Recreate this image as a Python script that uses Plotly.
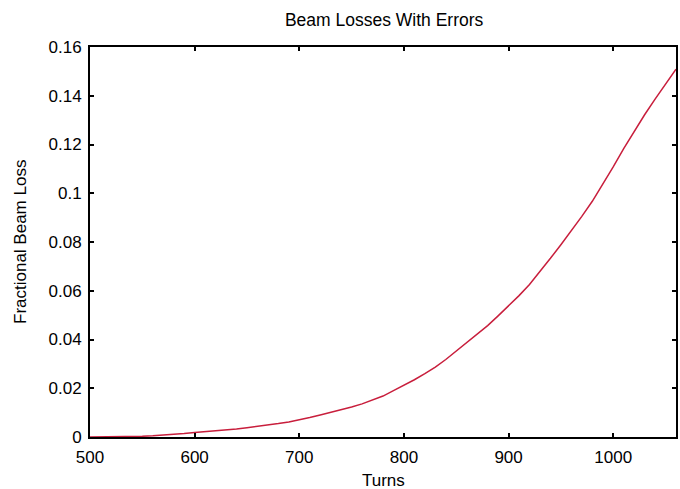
import plotly.graph_objects as go

# Fractional beam loss versus turn number
turns = list(range(500, 1061, 10))
loss = [
    0.0000, 0.0000, 0.0001, 0.0001, 0.0002, 0.0003, 0.0005, 0.0007, 0.0010, 0.0014,
    0.0018, 0.0021, 0.0025, 0.0029, 0.0033, 0.0038, 0.0043, 0.0049, 0.0055, 0.0062,
    0.0070, 0.0080, 0.0090, 0.0100, 0.0112, 0.0123, 0.0136, 0.0151, 0.0168, 0.0190,
    0.0212, 0.0235, 0.0260, 0.0287, 0.0318, 0.0353, 0.0388, 0.0423, 0.0457, 0.0497,
    0.0538, 0.0580, 0.0626, 0.0678, 0.0733, 0.0789, 0.0846, 0.0905, 0.0967, 0.1035,
    0.1108, 0.1183, 0.1255, 0.1322, 0.1386, 0.1447, 0.1509,
]

x_ticks = [500, 600, 700, 800, 900, 1000]
y_ticks = [0, 0.02, 0.04, 0.06, 0.08, 0.1, 0.12, 0.14, 0.16]
y_tick_text = ["0", "0.02", "0.04", "0.06", "0.08", "0.1", "0.12", "0.14", "0.16"]

FONT = "Liberation Sans, Arial, sans-serif"
FS = 17

fig = go.Figure()
fig.add_trace(go.Scatter(
    x=turns, y=loss, mode="lines",
    line=dict(color="#c81e3c", width=1.5),
    showlegend=False, hoverinfo="skip",
))

axis_common = dict(
    showline=True, linecolor="black", linewidth=2, mirror="ticks",
    ticks="inside", ticklen=4, tickwidth=1.5, tickcolor="black",
    showgrid=False, zeroline=False,
    tickfont=dict(family=FONT, size=FS, color="black"),
)

fig.update_layout(
    width=680, height=489,
    margin=dict(l=90, r=2, t=47, b=52),
    paper_bgcolor="white", plot_bgcolor="white",
    title=dict(text="Beam Losses With Errors", x=0.5649, xanchor="center",
               y=1 - 20 / 489, yanchor="middle",
               font=dict(family=FONT, size=17.5, color="black")),
    xaxis=dict(range=[500, 1060], tickvals=x_ticks, ticklabelstandoff=4,
               **axis_common),
    yaxis=dict(range=[0, 0.16], tickvals=y_ticks, ticktext=y_tick_text,
               ticklabelstandoff=3, **axis_common),
    annotations=[
        dict(text="Turns", xref="paper", yref="paper", x=0.5, y=0,
             xanchor="center", yanchor="middle", yshift=-43, showarrow=False,
             font=dict(family=FONT, size=FS, color="black")),
        dict(text="Fractional Beam Loss", xref="paper", yref="paper", x=0, y=0.5,
             xanchor="center", yanchor="middle", xshift=-70, textangle=-90,
             showarrow=False, font=dict(family=FONT, size=FS, color="black")),
    ],
)

fig.write_html("out.html")
